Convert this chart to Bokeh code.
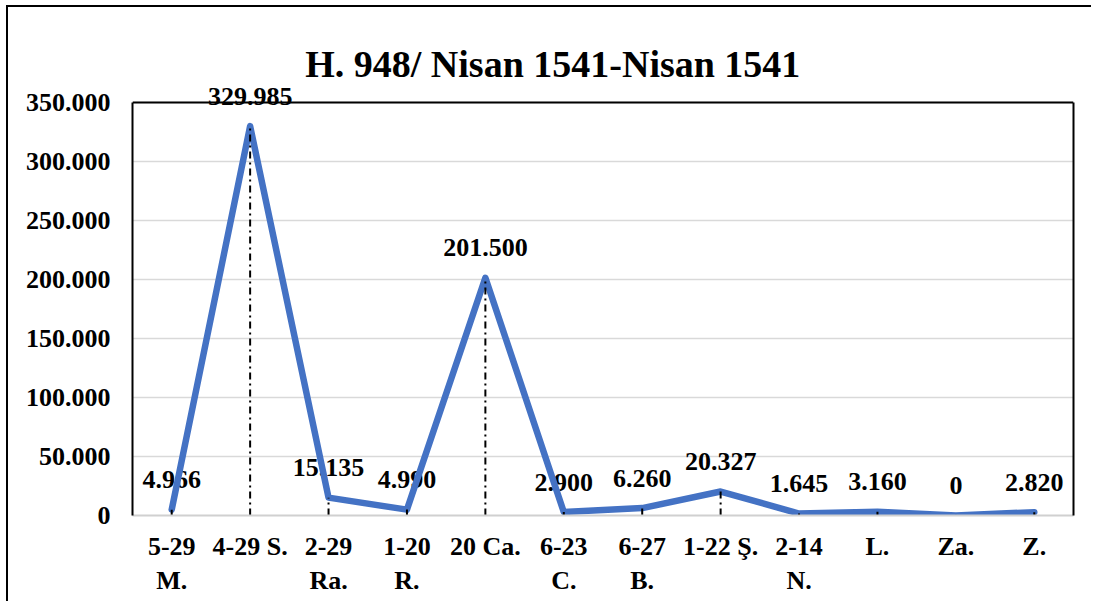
from bokeh.plotting import figure
from bokeh.models import ColumnDataSource, LabelSet, Label, Span, FixedTicker, Range1d, LinearAxis
from bokeh.embed import file_html
from bokeh.resources import INLINE

title_text = "H. 948/ Nisan 1541-Nisan 1541"
categories = ["5-29\nM.", "4-29 S.", "2-29\nRa.", "1-20\nR.", "20 Ca.", "6-23\nC.",
              "6-27\nB.", "1-22 Ş.", "2-14\nN.", "L.", "Za.", "Z."]
values = [4966, 329985, 15135, 4990, 201500, 2900, 6260, 20327, 1645, 3160, 0, 2820]
value_labels = ["4.966", "329.985", "15.135", "4.990", "201.500", "2.900",
                "6.260", "20.327", "1.645", "3.160", "0", "2.820"]
y_ticks = [0, 50000, 100000, 150000, 200000, 250000, 300000, 350000]
y_tick_labels = ["0", "50.000", "100.000", "150.000", "200.000", "250.000", "300.000", "350.000"]

FONT = "Liberation Serif"
BLUE = "#4472C4"

xs = [i + 0.5 for i in range(len(categories))]
src = ColumnDataSource(dict(x=xs, y=values, base=[0] * len(values), vlab=value_labels))

# plot area is 413px tall for 0..350.000; the frame is extended upward (508px)
# so that the top value label and the title are not clipped
ymax = y_ticks[-1]
y_end = ymax * 508 / 413

p = figure(width=1085, height=596, output_backend="svg", toolbar_location=None,
           x_range=Range1d(0, len(categories)), y_range=Range1d(0, y_end),
           min_border_left=124, min_border_top=0, min_border_right=20, min_border_bottom=88,
           styles={"border-left": "2px solid black", "border-top": "2px solid black",
                   "margin-left": "6px", "margin-top": "5px"})
p.outline_line_color = None
p.background_fill_color = "white"

# y axis (left border of plot area)
p.yaxis.ticker = FixedTicker(ticks=y_ticks)
p.yaxis.bounds = (0, ymax)
p.yaxis.major_label_overrides = {t: l for t, l in zip(y_ticks, y_tick_labels)}
p.yaxis.major_label_text_font = FONT
p.yaxis.major_label_text_font_style = "bold"
p.yaxis.major_label_text_font_size = "26px"
p.yaxis.major_label_text_color = "black"
p.yaxis.major_label_standoff = 16
p.yaxis.major_tick_line_color = None
p.yaxis.minor_tick_line_color = None
p.yaxis.axis_line_color = "black"
p.yaxis.axis_line_width = 2

# right border
ra = LinearAxis(bounds=(0, ymax), ticker=FixedTicker(ticks=[]),
                major_label_text_font_size="0px", major_tick_line_color=None,
                minor_tick_line_color=None, axis_line_color="black", axis_line_width=2)
p.add_layout(ra, "right")

# x axis with category labels
p.xaxis.ticker = FixedTicker(ticks=xs)
p.xaxis.major_label_overrides = {x: c for x, c in zip(xs, categories)}
p.xaxis.major_label_text_font = FONT
p.xaxis.major_label_text_font_style = "bold"
p.xaxis.major_label_text_font_size = "26px"
p.xaxis.major_label_text_color = "black"
p.xaxis.major_label_text_line_height = 1.2
p.xaxis.major_label_standoff = 10
p.xaxis.major_tick_line_color = None
p.xaxis.minor_tick_line_color = None
p.xaxis.axis_line_color = "#D0D0D0"
p.xaxis.axis_line_width = 2

p.xgrid.grid_line_color = None
p.ygrid.ticker = FixedTicker(ticks=y_ticks)
p.ygrid.grid_line_color = "#D9D9D9"
p.ygrid.grid_line_width = 1.5

# value labels (underneath the line)
vl = LabelSet(x="x", y="y", text="vlab", source=src, y_offset=30,
              text_align="center", text_baseline="middle",
              text_font=FONT, text_font_style="bold", text_font_size="26px",
              text_color="black", level="underlay")
p.add_layout(vl)

# main line
p.line("x", "y", source=src, line_color=BLUE, line_width=6.5,
       line_join="round", line_cap="round")

# drop lines
p.segment(x0="x", y0="base", x1="x", y1="y", source=src, line_color="black",
          line_width=2, line_dash="7 4 2 4")

# top border of plot area
p.add_layout(Span(location=ymax, dimension="width", line_color="black", line_width=2))

# title
p.add_layout(Label(x=5.36, y=ymax, y_offset=39, text=title_text,
                   text_align="center", text_baseline="alphabetic",
                   text_font=FONT, text_font_style="bold", text_font_size="38px",
                   text_color="black"))

open("out.html", "w").write(file_html(p, INLINE))
